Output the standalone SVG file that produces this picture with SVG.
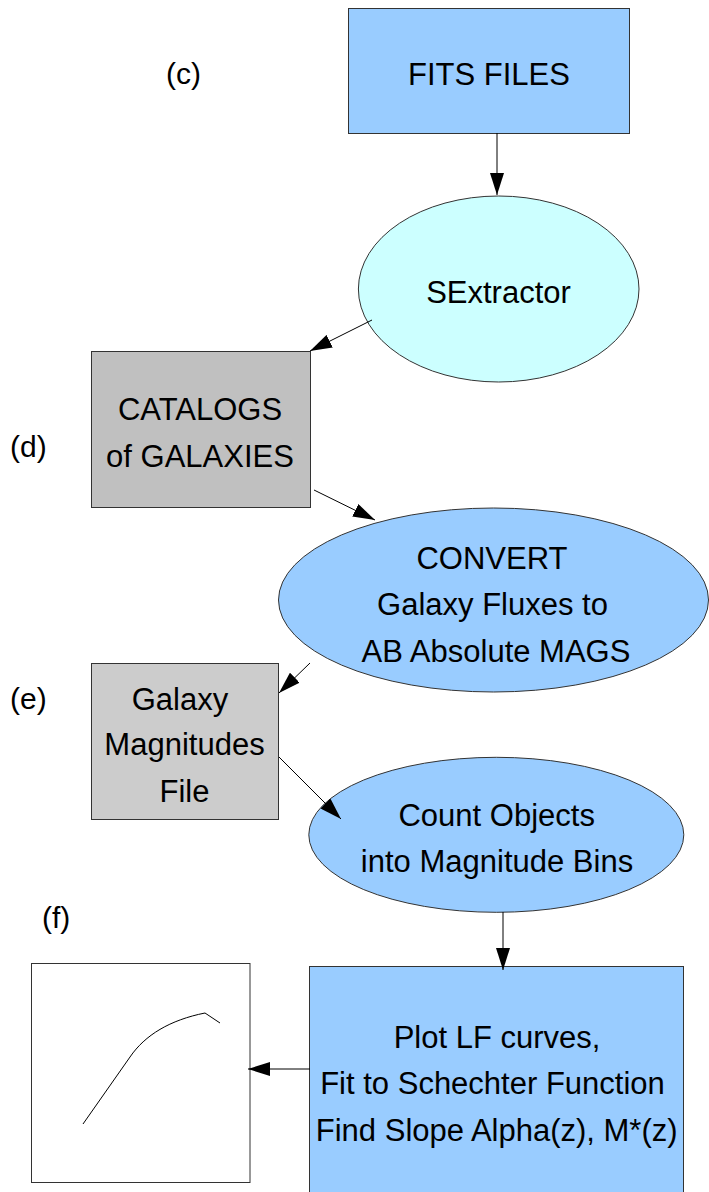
<svg xmlns="http://www.w3.org/2000/svg" width="709" height="1192" viewBox="0 0 709 1192">
  <style>
    text { font-family: "Liberation Sans", Arial, sans-serif; font-size: 31px; fill: #000; text-anchor: middle; }
    .lbl { text-anchor: start; font-size: 30px; }
    .box { stroke: #333; stroke-width: 1; }
    .blue { fill: #99ccff; }
    .cyan { fill: #ccffff; }
    .grey1 { fill: #c0c0c0; }
    .grey2 { fill: #cccccc; }
    .edge { stroke: #000; stroke-width: 1; fill: none; marker-end: url(#head); }
  </style>
  <defs>
    <marker id="head" viewBox="0 0 22 14" refX="22" refY="7" markerWidth="22" markerHeight="14" markerUnits="userSpaceOnUse" orient="auto">
      <path d="M0,0 L22,7 L0,14 Z" fill="#000"/>
    </marker>
  </defs>

  <!-- stage labels -->
  <text class="lbl" x="166" y="84">(c)</text>
  <text class="lbl" x="10" y="457">(d)</text>
  <text class="lbl" x="10" y="709">(e)</text>
  <text class="lbl" x="42" y="928">(f)</text>

  <g id="fits-files">
    <rect class="box blue" x="348.5" y="8.5" width="281" height="125"/>
    <text x="489" y="85">FITS FILES</text>
  </g>

  <g id="sextractor">
    <ellipse class="box cyan" cx="498.7" cy="289" rx="140.3" ry="93"/>
    <text x="498.5" y="303">SExtractor</text>
  </g>

  <g id="catalogs">
    <rect class="box grey1" x="91.5" y="351.5" width="219" height="156"/>
    <text x="200" y="420">CATALOGS</text>
    <text x="200" y="467">of GALAXIES</text>
  </g>

  <g id="convert">
    <ellipse class="box blue" cx="493.5" cy="600" rx="215" ry="92"/>
    <text x="492" y="569">CONVERT</text>
    <text x="492.5" y="615">Galaxy Fluxes to</text>
    <text x="496" y="661.5">AB Absolute MAGS</text>
  </g>

  <g id="magnitudes-file">
    <rect class="box grey2" x="91.5" y="663.5" width="187" height="156"/>
    <text x="180" y="710">Galaxy</text>
    <text x="184.5" y="755">Magnitudes</text>
    <text x="184.5" y="801.5">File</text>
  </g>

  <g id="count-objects">
    <ellipse class="box blue" cx="496.3" cy="834.8" rx="187.5" ry="77.5"/>
    <text x="496.7" y="825.5">Count Objects</text>
    <text x="497" y="871.5">into Magnitude Bins</text>
  </g>

  <g id="plot-lf">
    <rect class="box blue" x="309.5" y="966.5" width="374" height="240"/>
    <text x="497" y="1047.5">Plot LF curves,</text>
    <text x="492.5" y="1094">Fit to Schechter Function</text>
    <text x="496.7" y="1140.5">Find Slope Alpha(z), M*(z)</text>
  </g>

  <g id="lf-graph">
    <rect x="31.5" y="963.5" width="218.5" height="219" fill="#fff" stroke="#333" stroke-width="1"/>
    <path d="M83,1124 L130,1057 C145,1035 170,1020 205,1013 L220,1023" fill="none" stroke="#000" stroke-width="1"/>
  </g>

  <!-- connectors, drawn over the nodes -->
  <g id="connectors">
    <line class="edge" x1="497" y1="133" x2="497" y2="195"/>
    <line class="edge" x1="372" y1="320" x2="310" y2="351"/>
    <line class="edge" x1="314" y1="490" x2="375" y2="520"/>
    <line class="edge" x1="310" y1="663" x2="279" y2="693"/>
    <line class="edge" x1="279" y1="757" x2="341" y2="819"/>
    <line class="edge" x1="503" y1="912" x2="503" y2="970"/>
    <line class="edge" x1="310" y1="1069" x2="248" y2="1069"/>
  </g>
</svg>
